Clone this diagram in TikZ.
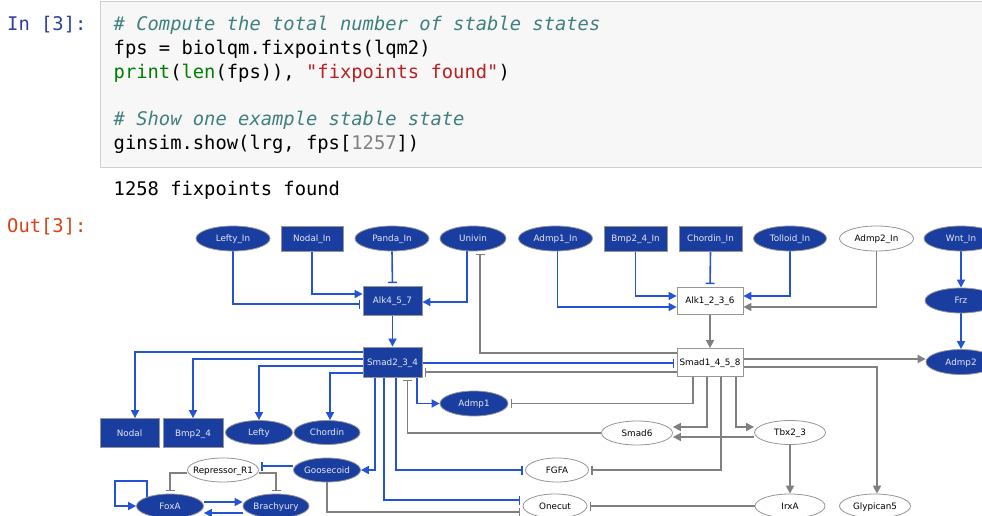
\documentclass[tikz,border=0pt]{standalone}
\usepackage{fontspec}
\setmainfont{DejaVu Sans}
\newfontfamily\codefont{DejaVu Sans Mono}
\newfontfamily\gfont{DejaVu Sans}
\usetikzlibrary{shapes.geometric,arrows.meta,backgrounds}
\definecolor{nblue}{RGB}{26,62,160}
\definecolor{eblue}{RGB}{36,84,214}
\definecolor{egray}{RGB}{128,128,128}
\definecolor{nborder}{RGB}{150,150,150}
\definecolor{ntext}{RGB}{228,231,244}
\definecolor{cellbg}{RGB}{247,247,247}
\definecolor{cellborder}{RGB}{207,207,207}
\definecolor{inprompt}{RGB}{48,63,159}
\definecolor{outprompt}{RGB}{216,67,21}
\definecolor{ccomment}{RGB}{64,128,128}
\definecolor{cbuiltin}{RGB}{0,128,0}
\definecolor{cstring}{RGB}{186,33,33}
\definecolor{cnumber}{RGB}{128,128,128}
\newcommand\lbl[1]{\makebox[0pt]{#1}}
\newcommand\gsize{\fontsize{8.8pt}{10pt}\selectfont}
\newcommand\csize{\fontsize{18.8pt}{22pt}\selectfont}
\begin{document}
\begin{tikzpicture}[x=1pt,y=-1pt,
  codeline/.style={anchor=base west, inner sep=0pt, font=\codefont\csize},
  gnode/.style={font=\gfont\gsize, inner sep=0pt, text height=6.4pt, text depth=0pt, draw=nborder, line width=0.8pt},
  nodeBB/.style={gnode, rectangle, fill=nblue, text=ntext},
  nodeBE/.style={gnode, ellipse, fill=nblue, text=ntext},
  nodeWB/.style={gnode, rectangle, fill=white, text=black},
  nodeWE/.style={gnode, ellipse, fill=white, text=black},
  edgeB/.style={line width=1.6pt, draw=eblue},
  edgeG/.style={line width=1.6pt, draw=egray},
  actv/.style={-{Triangle[length=8pt,width=8pt]}},
  inhb/.style={-{Bar[width=9pt,line width=1.4pt]}, shorten >=2.5pt},
]
\useasboundingbox (0,0) rectangle (982,516);

% notebook cell
\draw[fill=cellbg, draw=cellborder, line width=1pt] (100.5,2) rectangle (1000,167);
\node[codeline, text=inprompt] (inp) at (7,31) {In [3]:};
\node[codeline] (c1) at (113.5,31) {\textcolor{ccomment}{\itshape\# Compute the total number of stable states}};
\node[codeline] (c2) at (113.5,55) {fps = biolqm.fixpoints(lqm2)};
\node[codeline] (c3) at (113.5,78.5) {\textcolor{cbuiltin}{print}(\textcolor{cbuiltin}{len}(fps)), \textcolor{cstring}{"fixpoints found"})};
\node[codeline] (c5) at (113.5,126) {\textcolor{ccomment}{\itshape\# Show one example stable state}};
\node[codeline] (c6) at (113.5,149.5) {ginsim.show(lrg, fps[\textcolor{cnumber}{1257}])};
\node[codeline] (res) at (113.5,195) {1258 fixpoints found};
\node[codeline, text=outprompt] (outp) at (7,232) {Out[3]:};

% graph nodes: top row
\node[nodeBE, minimum width=74pt, minimum height=25pt] (LeftyIn) at (233,238.5) {\lbl{Lefty\_In}};
\node[nodeBB, minimum width=62pt, minimum height=25pt] (NodalIn) at (312,238.5) {\lbl{Nodal\_In}};
\node[nodeBE, minimum width=74pt, minimum height=25pt] (PandaIn) at (392,238.5) {\lbl{Panda\_In}};
\node[nodeBE, minimum width=66pt, minimum height=25pt] (Univin) at (473,238.5) {\lbl{Univin}};
\node[nodeBE, minimum width=74pt, minimum height=25pt] (Admp1In) at (555.5,238.5) {\lbl{Admp1\_In}};
\node[nodeBB, minimum width=63pt, minimum height=25pt] (Bmp24In) at (635.5,238.5) {\lbl{Bmp2\_4\_In}};
\node[nodeBB, minimum width=63pt, minimum height=25pt] (ChordinIn) at (710.5,238.5) {\lbl{Chordin\_In}};
\node[nodeBE, minimum width=73pt, minimum height=25pt] (TolloidIn) at (790,238.5) {\lbl{Tolloid\_In}};
\node[nodeWE, minimum width=74pt, minimum height=25pt] (Admp2In) at (876.5,238.5) {\lbl{Admp2\_In}};
\node[nodeBE, minimum width=74pt, minimum height=25pt] (WntIn) at (961,238.5) {\lbl{Wnt\_In}};
% second row
\node[nodeBB, minimum width=59pt, minimum height=29pt] (Alk457) at (392.5,300.5) {\lbl{Alk4\_5\_7}};
\node[nodeWB, minimum width=66pt, minimum height=27pt] (Alk1236) at (710,300.5) {\lbl{Alk1\_2\_3\_6}};
\node[nodeBE, minimum width=72pt, minimum height=25pt] (Frz) at (961,300.5) {\lbl{Frz}};
% third row
\node[nodeBB, minimum width=59pt, minimum height=30pt] (Smad234) at (392.5,362) {\lbl{Smad2\_3\_4}};
\node[nodeWB, minimum width=66pt, minimum height=28pt] (Smad1458) at (710,362.5) {\lbl{Smad1\_4\_5\_8}};
\node[nodeBE, minimum width=70pt, minimum height=25pt] (Admp2) at (961,362) {\lbl{Admp2}};
\node[nodeBE, minimum width=68pt, minimum height=25pt] (Admp1) at (474,403.5) {\lbl{Admp1}};
% fourth row
\node[nodeBB, minimum width=59pt, minimum height=29pt] (Nodal) at (129.5,433) {\lbl{Nodal}};
\node[nodeBB, minimum width=60pt, minimum height=29pt] (Bmp24) at (193,433) {\lbl{Bmp2\_4}};
\node[nodeBE, minimum width=67pt, minimum height=24pt] (Lefty) at (259,432.5) {\lbl{Lefty}};
\node[nodeBE, minimum width=66pt, minimum height=24pt] (Chordin) at (327,432.5) {\lbl{Chordin}};
\node[nodeWE, minimum width=71pt, minimum height=24pt] (Smad6) at (637,433) {\lbl{Smad6}};
\node[nodeWE, minimum width=71pt, minimum height=24pt] (Tbx23) at (790,432.5) {\lbl{Tbx2\_3}};
% fifth row
\node[nodeWE, minimum width=71pt, minimum height=24pt] (Repressor) at (223,470) {\lbl{Repressor\_R1}};
\node[nodeBE, minimum width=67pt, minimum height=24pt] (Goosecoid) at (327,470) {\lbl{Goosecoid}};
\node[nodeWE, minimum width=63pt, minimum height=24pt] (FGFA) at (557,470) {\lbl{FGFA}};
% bottom row
\node[nodeBE, minimum width=67pt, minimum height=24pt] (FoxA) at (170,506) {\lbl{FoxA}};
\node[nodeBE, minimum width=66pt, minimum height=24pt] (Brachyury) at (276,506) {\lbl{Brachyury}};
\node[nodeWE, minimum width=64pt, minimum height=24pt] (Onecut) at (555,506) {\lbl{Onecut}};
\node[nodeWE, minimum width=70pt, minimum height=24pt] (IrxA) at (790,506) {\lbl{IrxA}};
\node[nodeWE, minimum width=71pt, minimum height=24pt] (Glypican5) at (875,506) {\lbl{Glypican5}};

\begin{pgfonlayer}{background}
\fill[white] (0,0) rectangle (982,516);
% active (blue) interactions
\draw[edgeB,inhb] (LeftyIn.south) |- (Alk457.west |- 0,304);
\draw[edgeB,actv] (NodalIn.south) |- (Alk457.west |- 0,294);
\draw[edgeB,inhb] (PandaIn.south) -- (Alk457.north);
\draw[edgeB,actv] ([xshift=-6pt]Univin.south) |- (Alk457.east |- 0,302);
\draw[edgeB,actv] (Alk457.south) -- (Smad234.north);
\draw[edgeB,actv] ([xshift=2pt]Admp1In.south) |- (Alk1236.west |- 0,307);
\draw[edgeB,actv] (Bmp24In.south) |- (Alk1236.west |- 0,296);
\draw[edgeB,inhb] (ChordinIn.south) -- (Alk1236.north);
\draw[edgeB,actv] (TolloidIn.south) |- (Alk1236.east |- 0,296);
\draw[edgeB,actv] (WntIn) -- (Frz);
\draw[edgeB,actv] (Frz) -- (Admp2);
\draw[edgeB,actv] (Smad234.west |- 0,352) -| ([xshift=5.5pt]Nodal.north);
\draw[edgeB,actv] (Smad234.west |- 0,359) -| (Bmp24.north);
\draw[edgeB,actv] (Smad234.west |- 0,366) -| (Lefty.north);
\draw[edgeB,actv] (Smad234.west |- 0,373) -| ([xshift=3pt]Chordin.north);
\draw[edgeB,actv] ([xshift=-17.5pt]Smad234.south) |- (Goosecoid.east);
\draw[edgeB,inhb] ([xshift=-8.5pt]Smad234.south) |- (Onecut.west |- 0,500);
\draw[edgeB,inhb] ([xshift=3.5pt]Smad234.south) |- (FGFA.west);
\draw[edgeB,actv] ([xshift=24.5pt]Smad234.south) |- (Admp1.west);
\draw[edgeB,inhb] (Smad234.east |- 0,363) -- (Smad1458.west |- 0,363);
\draw[edgeB,inhb] (Goosecoid.west |- 0,466) -- (Repressor.east |- 0,466);
\draw[edgeB,actv] ([xshift=-23pt]FoxA.center) |- ++(-32,-25) |- (FoxA.west);
\draw[edgeB,actv] (FoxA.east |- 0,502) -- (Brachyury.west |- 0,502);
\draw[edgeB,actv] (Brachyury.west |- 0,513) -- (FoxA.east |- 0,513);
% inactive (grey) interactions
\draw[edgeG,actv] (Admp2In.south) |- (Alk1236.east |- 0,307);
\draw[edgeG,actv] (Alk1236.south) -- (Smad1458.north);
\draw[edgeG,inhb] (Smad1458.west |- 0,353) -| ([xshift=7pt]Univin.south);
\draw[edgeG,inhb] (Smad1458.west |- 0,372) -- (Smad234.east |- 0,372);
\draw[edgeG,inhb] ([xshift=-17pt]Smad1458.south) |- (Admp1.east);
\draw[edgeG,actv] ([xshift=-3pt]Smad1458.south) |- (Smad6.east |- 0,427);
\draw[edgeG,inhb] ([xshift=11pt]Smad1458.south) |- (FGFA.east);
\draw[edgeG,actv] ([xshift=26pt]Smad1458.south) |- (Tbx23.west |- 0,427);
\draw[edgeG,actv] (Tbx23.west |- 0,437) -- (Smad6.east |- 0,437);
\draw[edgeG,actv] (Smad1458.east |- 0,359) -- (Admp2.west |- 0,359);
\draw[edgeG,actv] (Smad1458.east |- 0,367) -| ([xshift=2pt]Glypican5.north);
\draw[edgeG,actv] (Tbx23) -- (IrxA);
\draw[edgeG,inhb] (IrxA) -- (Onecut);
\draw[edgeG,inhb] (Smad6.west) -| ([xshift=15pt]Smad234.south);
\draw[edgeG,inhb] (Goosecoid.south) |- (Onecut.west |- 0,512);
\draw[edgeG,inhb] (Repressor.west |- 0,473) -| (FoxA.north);
\draw[edgeG,inhb] (Repressor.east |- 0,473) -| (Brachyury.north);
\end{pgfonlayer}
\end{tikzpicture}
\end{document}
